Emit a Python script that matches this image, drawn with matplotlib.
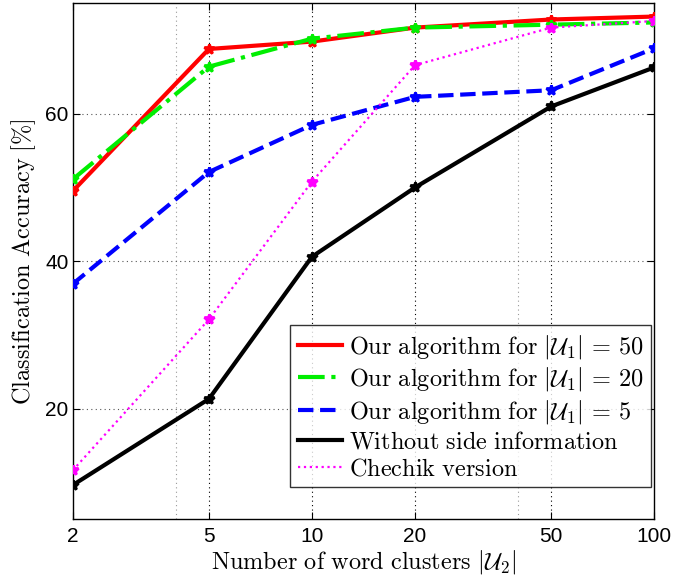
import matplotlib
matplotlib.use("Agg")
import matplotlib.pyplot as plt

# ── Data ──────────────────────────────────────────────────────────────────────
clusters = [2, 5, 10, 20, 50, 100]
acc_u50 = [49.5, 68.8, 69.8, 71.7, 72.8, 73.2]
acc_u20 = [51.1, 66.4, 70.2, 71.7, 72.1, 72.4]
acc_u5 = [36.9, 52.1, 58.5, 62.3, 63.2, 68.9]
acc_noside = [9.6, 21.3, 40.6, 50.0, 61.0, 66.3]
acc_chechik = [11.6, 32.1, 50.8, 66.6, 71.7, 72.6]

xticks = [2, 5, 10, 20, 50, 100]
yticks = [20, 40, 60]
minor_grid = [4, 40]

plt.rcParams["mathtext.fontset"] = "cm"
plt.rcParams["font.family"] = ["Liberation Sans", "DejaVu Sans"]

fig = plt.figure(figsize=(6.97, 5.78), dpi=100, facecolor="white")
ax = fig.add_axes([0.1043, 0.102, 0.8344, 0.8923])

series = [
    (acc_u50, "red", "-", r"$\mathrm{Our\ algorithm\ for\ }|\mathcal{U}_1|\,=\,50$"),
    (acc_u20, "#00ee00", "-.", r"$\mathrm{Our\ algorithm\ for\ }|\mathcal{U}_1|\,=\,20$"),
    (acc_u5, "blue", "--", r"$\mathrm{Our\ algorithm\ for\ }|\mathcal{U}_1|\,=\,5$"),
    (acc_noside, "black", "-", r"$\mathrm{Without\ side\ information}$"),
    (acc_chechik, "magenta", ":", r"$\mathrm{Chechik\ version}$"),
]

for vals, col, ls, lab in series:
    lw = 1.6 if ls == ":" else 3.0
    ax.plot(clusters, vals, color=col, linestyle=ls, lw=lw, marker="*",
            ms=7, mew=2, mec=col, mfc=col, label=lab, zorder=3)

ax.set_xscale("log")
ax.set_xlim(2, 100)
ax.set_ylim(5, 75)
ax.set_xticks(xticks)
ax.set_xticklabels([str(v) for v in xticks])
ax.minorticks_off()
ax.set_yticks(yticks)

for xv in xticks[1:-1]:
    ax.axvline(xv, color="black", lw=0.8, linestyle=(0, (1, 3)), zorder=1)
for xv in minor_grid:
    ax.axvline(xv, color="#999999", lw=0.8, linestyle=(0, (1, 3)), zorder=1)
for yv in yticks:
    ax.axhline(yv, color="#555555", lw=0.8, linestyle=(0, (1, 3)), zorder=1)

ax.tick_params(direction="in", top=True, right=True, labelsize=15, length=5,
               width=0.8)
ax.tick_params(axis="x", pad=6)
ax.tick_params(axis="y", pad=3)
for sp in ax.spines.values():
    sp.set_linewidth(1.0)

ax.set_xlabel(r"$\mathrm{Number\ of\ word\ clusters\ }|\mathcal{U}_2|$", fontsize=17.5,
              labelpad=1)
ax.set_ylabel(r"$\mathrm{Classification\ Accuracy\ [\%]}$", fontsize=17.5, labelpad=5)

leg = ax.legend(loc="lower right", bbox_to_anchor=(650.7 / 697, 1 - 487.3 / 578),
                bbox_transform=fig.transFigure, borderaxespad=0, fontsize=17.5,
                frameon=True, fancybox=False, edgecolor="black",
                handlelength=1.8, handletextpad=0.3, labelspacing=0.2,
                borderpad=0.3)
leg.get_frame().set_linewidth(1.0)
for h in leg.get_lines():
    h.set_marker("")

fig.savefig("out.png", dpi=100, facecolor="white")
